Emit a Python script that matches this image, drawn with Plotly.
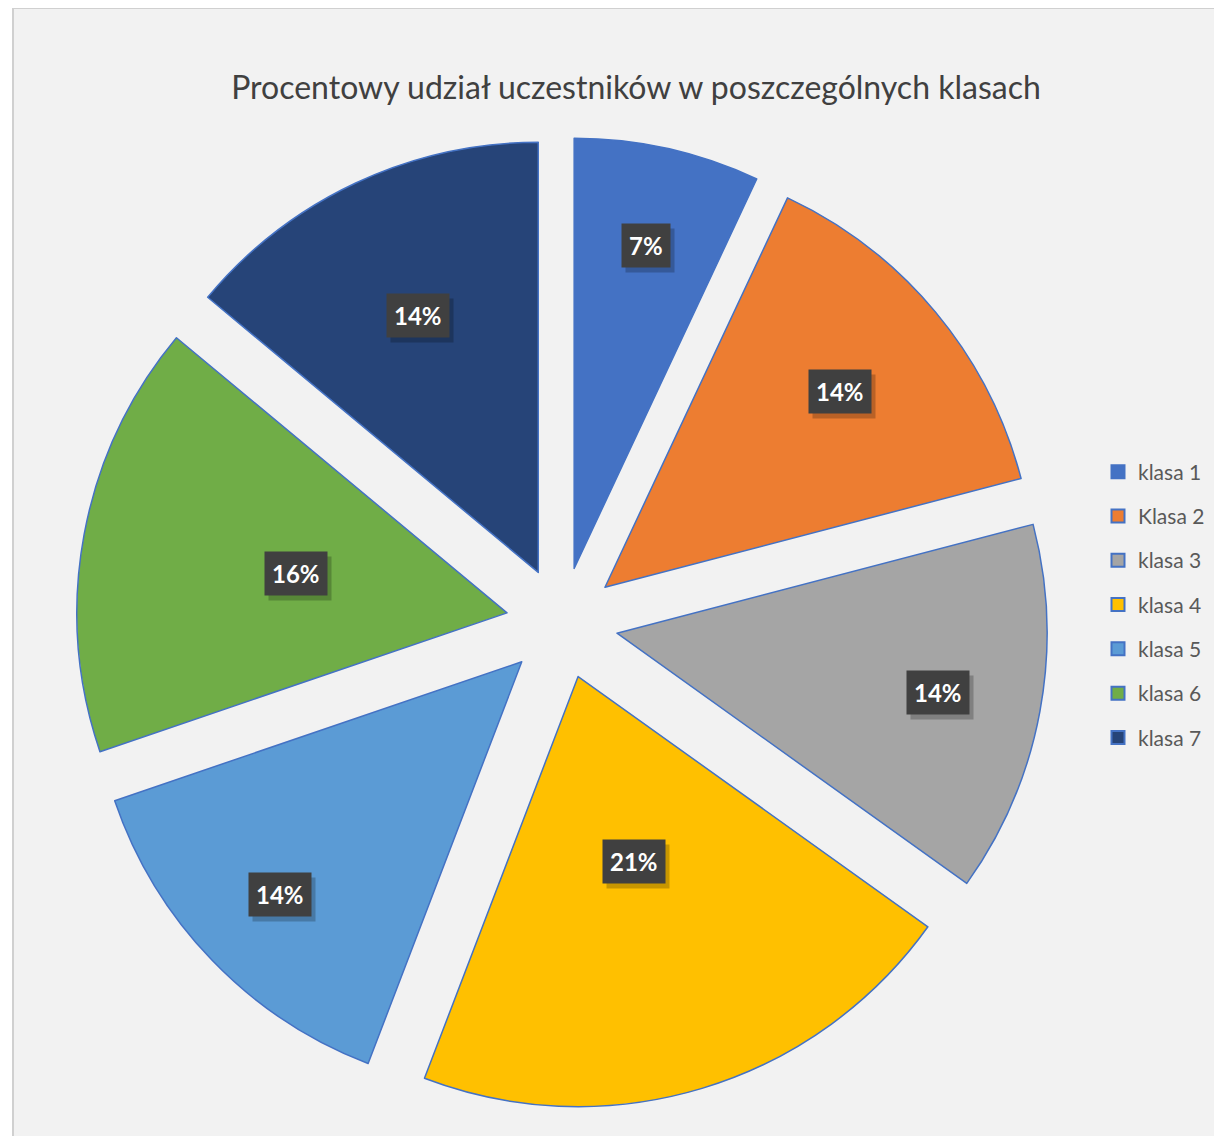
import math
import plotly.graph_objects as go

# ---- data ----
categories = ["klasa 1", "Klasa 2", "klasa 3", "klasa 4", "klasa 5", "klasa 6", "klasa 7"]
participants = [3, 6, 6, 9, 6, 7, 6]
colors = ["#4472C4", "#ED7D31", "#A5A5A5", "#FFC000", "#5B9BD5", "#70AD47", "#264478"]
title_text = "Procentowy udział uczestników w poszczególnych klasach"

# ---- layout / style ----
W, H = 1222, 1136
OFF = 8                    # page body margin of the browser
CX, CY = 562 - OFF, 623 - OFF   # pie centre (px)
PULL = 0.13
R_TOTAL = 486              # radius incl. pull (px)
R = R_TOTAL / (1 + PULL)
label_radius = [0.90, 0.84, 0.89, 0.58, 0.91, 0.63, 0.79]  # fraction of R
FONT = "Lato"

fig = go.Figure()

fig.add_trace(go.Pie(
    labels=categories,
    values=participants,
    sort=False,
    direction="clockwise",
    rotation=0,
    pull=[PULL] * len(categories),
    marker=dict(colors=colors, line=dict(color="#4472C4", width=1.5)),
    textinfo="none",
    hoverinfo="label+percent",
    showlegend=False,
    domain=dict(x=[(CX - R_TOTAL) / W, (CX + R_TOTAL) / W],
                y=[1 - (CY + R_TOTAL) / H, 1 - (CY - R_TOTAL) / H]),
))

# legend entries (one group each so the spacing can be widened)
for name, col in zip(categories, colors):
    fig.add_trace(go.Scatter(
        x=[None], y=[None], mode="markers", name=name,
        legendgroup=name,
        marker=dict(symbol="square", size=13, color=col,
                    line=dict(color="#4472C4", width=2)),
        hoverinfo="skip",
    ))

# data labels (boxes) computed from slice angles
total = sum(participants)
annotations = []
cum = 0.0
for i, v in enumerate(participants):
    ang = (cum + v / 2) / total * 2 * math.pi
    cum += v
    d = label_radius[i] * R
    px = CX + d * math.sin(ang)
    py = CY - d * math.cos(ang)
    pct = f"<b>{round(v / total * 100)}%</b>"
    common = dict(x=px / W, y=1 - py / H, xref="paper", yref="paper",
                  xanchor="center", yanchor="middle",
                  showarrow=False, borderpad=7)
    annotations.append(dict(text=pct, bgcolor="rgba(0,0,0,0.22)",
                            font=dict(family=FONT, size=24, color="rgba(0,0,0,0)"),
                            xshift=4, yshift=-5, **common))
    annotations.append(dict(text=pct, bgcolor="#404040",
                            font=dict(family=FONT, size=24, color="white"),
                            **common))

fig.update_layout(
    width=W, height=H,
    margin=dict(l=0, r=0, t=0, b=0),
    paper_bgcolor="white",
    plot_bgcolor="rgba(0,0,0,0)",
    xaxis=dict(visible=False),
    yaxis=dict(visible=False),
    title=dict(text=title_text, x=(636 - OFF) / W, xanchor="center",
               y=1 - (88 - OFF) / H, yanchor="middle",
               font=dict(family=FONT, size=32, color="#404040")),
    legend=dict(x=(1098 - OFF) / W, xanchor="left", y=1 - (605 - OFF) / H,
                yanchor="middle",
                font=dict(family=FONT, size=21, color="#595959"),
                tracegroupgap=14, bgcolor="rgba(0,0,0,0)"),
    annotations=annotations,
    shapes=[dict(type="rect", xref="paper", yref="paper",
                 x0=(13 - OFF) / W, x1=1.05, y0=-0.05, y1=1 - (8 - OFF) / H,
                 fillcolor="#F2F2F2", line=dict(color="#D0D0D0", width=2),
                 layer="below")],
)

fig.write_html("out.html")
